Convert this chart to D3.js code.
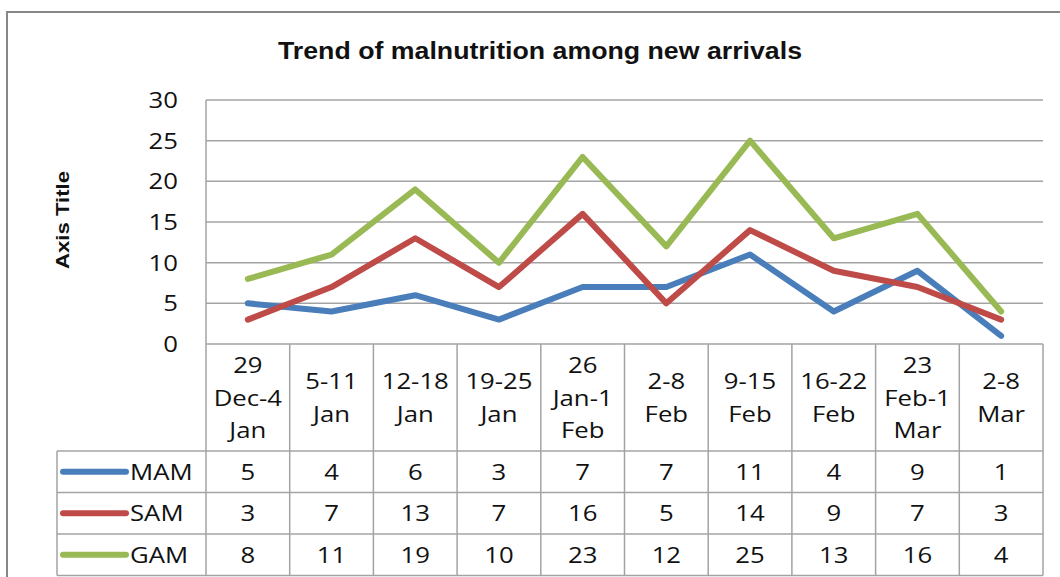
<!DOCTYPE html>
<head>
    <meta charset="utf-8">
    <style>
        body { margin: 0; background: #fff; }
        text { font-family: "Open Sans", "Liberation Sans", sans-serif; fill: #111; }
        .title { font-family: "Liberation Sans", Arial, sans-serif; font-weight: bold; }
    </style>
</head>
<body>
    <div id="chart"></div>
    <script src="https://d3js.org/d3.v7.min.js"></script>
    <script>
        // categories (line breaks as in the original data table)
        var categories = ["29\nDec-4\nJan", "5-11\nJan", "12-18\nJan", "19-25\nJan", "26\nJan-1\nFeb",
                          "2-8\nFeb", "9-15\nFeb", "16-22\nFeb", "23\nFeb-1\nMar", "2-8\nMar"];
        var seriesNames = ["MAM", "SAM", "GAM"];
        var mam = [5, 4, 6, 3, 7, 7, 11, 4, 9, 1];
        var sam = [3, 7, 13, 7, 16, 5, 14, 9, 7, 3];
        var gam = [8, 11, 19, 10, 23, 12, 25, 13, 16, 4];
        var yTicks = [0, 5, 10, 15, 20, 25, 30];

        var colors = ["#4a7ebb", "#be4b48", "#98b954"];
        var series = seriesNames.map(function(name, i) {
            return {name: name, values: [mam, sam, gam][i], color: colors[i]};
        });

        var W = 1060, H = 577;
        var plot = {left: 206, right: 1043, top: 100, bottom: 344};
        var headerBottom = 451, rowH = 41.5, legendLeft = 57;
        var sx = 1.17; // source text looks horizontally stretched
        var gridCol = "#a3a3a3";

        var svg = d3.select("#chart").append("svg")
            .attr("width", W)
            .attr("height", H);

        // outer chart border
        svg.append("rect")
            .attr("x", 7).attr("y", 12)
            .attr("width", W + 20).attr("height", H + 20)
            .attr("fill", "none")
            .attr("stroke", "#878787")
            .attr("stroke-width", 2);

        var x = d3.scaleBand()
            .domain(categories)
            .range([plot.left, plot.right]);

        var y = d3.scaleLinear()
            .domain([0, 30])
            .range([plot.bottom, plot.top]);

        function cx(d) { return x(d) + x.bandwidth() / 2; }

        // helper: place stretched text
        function put(g, str, px, py, anchor, size) {
            return g.append("text")
                .attr("transform", "translate(" + px + "," + py + ") scale(" + sx + ",1)")
                .attr("text-anchor", anchor)
                .style("font-size", size + "px")
                .text(str);
        }

        // title
        svg.append("text")
            .attr("class", "title")
            .attr("x", 540)
            .attr("y", 59)
            .attr("text-anchor", "middle")
            .attr("textLength", 524)
            .attr("lengthAdjust", "spacingAndGlyphs")
            .style("font-size", "23px")
            .text("Trend of malnutrition among new arrivals");

        // axis title
        svg.append("text")
            .attr("class", "title")
            .attr("transform", "translate(69,220) rotate(-90)")
            .attr("text-anchor", "middle")
            .attr("textLength", 98)
            .attr("lengthAdjust", "spacingAndGlyphs")
            .style("font-size", "19px")
            .text("Axis Title");

        // gridlines
        svg.append("g")
            .selectAll("line")
            .data(yTicks.slice(1))
            .enter().append("line")
            .attr("x1", plot.left).attr("x2", plot.right)
            .attr("y1", function(d) { return y(d); })
            .attr("y2", function(d) { return y(d); })
            .attr("stroke", gridCol)
            .attr("stroke-width", 1.5);

        // y axis line
        svg.append("line")
            .attr("x1", plot.left).attr("x2", plot.left)
            .attr("y1", plot.top).attr("y2", headerBottom + rowH * 3)
            .attr("stroke", gridCol).attr("stroke-width", 1.5);

        // y tick labels
        var yl = svg.append("g");
        yTicks.forEach(function(t) {
            put(yl, t, 178, y(t) + 8, "end", 22);
        });

        // data table grid
        var tbl = svg.append("g").attr("stroke", gridCol).attr("stroke-width", 1.5);
        var tableBottom = headerBottom + rowH * 3;
        tbl.append("line")
            .attr("x1", plot.left).attr("x2", plot.right)
            .attr("y1", plot.bottom).attr("y2", plot.bottom);
        d3.range(4).forEach(function(i) {
            var yy = headerBottom + rowH * i;
            tbl.append("line")
                .attr("x1", legendLeft).attr("x2", plot.right)
                .attr("y1", yy).attr("y2", yy);
        });
        tbl.append("line")
            .attr("x1", legendLeft).attr("x2", legendLeft)
            .attr("y1", headerBottom).attr("y2", tableBottom);
        categories.forEach(function(c) {
            tbl.append("line")
                .attr("x1", x(c) + x.bandwidth()).attr("x2", x(c) + x.bandwidth())
                .attr("y1", plot.bottom).attr("y2", tableBottom);
        });

        // category headers
        var hdr = svg.append("g");
        var headerMid = (plot.bottom + headerBottom) / 2;
        categories.forEach(function(c) {
            var parts = c.split("\n");
            parts.forEach(function(p, i) {
                put(hdr, p, cx(c), headerMid + (i - (parts.length - 1) / 2) * 32.5 + 8, "middle", 22);
            });
        });

        // table values + legend keys
        var cells = svg.append("g");
        series.forEach(function(s, si) {
            var mid = headerBottom + rowH * si + rowH / 2;
            cells.append("line")
                .attr("x1", 63).attr("x2", 126)
                .attr("y1", mid).attr("y2", mid)
                .attr("stroke", s.color)
                .attr("stroke-width", 6)
                .attr("stroke-linecap", "round");
            put(cells, s.name, 130, mid + 8, "start", 22);
            s.values.forEach(function(v, i) {
                put(cells, v, cx(categories[i]), mid + 8, "middle", 22);
            });
        });

        // lines
        var line = d3.line()
            .x(function(d, i) { return cx(categories[i]); })
            .y(function(d) { return y(d); });

        svg.append("g")
            .selectAll("path")
            .data(series)
            .enter().append("path")
            .attr("d", function(d) { return line(d.values); })
            .attr("fill", "none")
            .attr("stroke", function(d) { return d.color; })
            .attr("stroke-width", 6)
            .attr("stroke-linejoin", "round")
            .attr("stroke-linecap", "round");
    </script>
</body>
